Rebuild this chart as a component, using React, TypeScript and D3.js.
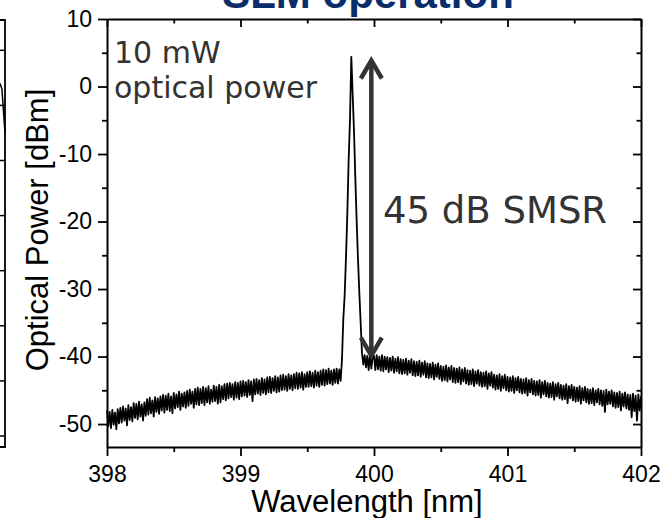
import React, { useRef, useEffect } from "react";
import * as d3 from "d3";

// OSA trace sampling: 398.00 ... 402.00 nm in 0.01 nm steps
const WL_START = 398;
const WL_STEP = 0.01;

// optical power [dBm], one row per 0.1 nm
const POWER = [
  -48.0, -50.3, -48.2, -50.6, -47.9, -50.1, -48.3, -50.8, -47.8, -49.9,
  -47.6, -49.8, -47.4, -49.5, -47.7, -50.2, -47.2, -49.4, -47.5, -49.6,
  -46.9, -49.1, -47.0, -49.3, -46.7, -48.9, -47.1, -49.5, -46.8, -48.8,
  -46.3, -48.6, -46.1, -48.4, -46.5, -48.9, -46.0, -48.2, -46.2, -48.5,
  -45.9, -48.0, -45.7, -48.3, -45.8, -47.9, -45.5, -48.1, -45.9, -48.4,
  -45.4, -47.7, -45.6, -47.5, -45.2, -47.9, -45.5, -47.4, -45.3, -47.6,
  -45.1, -47.3, -44.9, -47.0, -45.2, -47.6, -44.8, -47.1, -44.6, -47.2,
  -44.8, -46.9, -44.5, -47.2, -44.7, -46.8, -44.4, -47.0, -44.9, -46.7,
  -44.3, -46.6, -44.5, -47.0, -44.2, -46.8, -44.4, -46.3, -44.1, -46.5,
  -44.0, -46.2, -43.9, -46.0, -44.1, -46.4, -43.8, -46.1, -43.9, -46.3,
  -43.7, -45.9, -43.6, -45.8, -43.8, -46.0, -43.5, -45.7, -43.7, -46.6,
  -43.4, -45.6, -43.3, -45.5, -43.5, -45.7, -43.2, -45.4, -43.4, -45.6,
  -43.1, -45.3, -43.0, -45.4, -43.2, -45.1, -42.9, -45.3, -43.1, -45.2,
  -42.8, -45.0, -42.7, -44.9, -42.9, -45.1, -42.6, -44.8, -42.8, -45.0,
  -42.6, -44.7, -42.4, -44.8, -42.5, -44.6, -42.3, -44.9, -42.6, -44.5,
  -42.3, -44.5, -42.2, -44.4, -42.4, -44.6, -42.1, -44.3, -42.3, -44.5,
  -42.1, -44.2, -41.9, -44.3, -42.0, -44.1, -41.8, -44.0, -42.1, -44.2,
  -41.9, -43.9, -41.8, -44.0, -41.9, -43.6, -40.5, -34.5, -31.0, -25.5,
  -19.0, -11.0, -5.0, 4.4, -1.0, -6.5, -13.5, -19.8, -25.5, -30.5,
  -35.0, -39.5, -41.2, -39.8, -41.6, -39.9, -42.0, -39.7, -41.8, -40.0,
  -39.9, -42.0, -39.8, -41.9, -40.0, -42.1, -39.8, -42.2, -40.0, -41.9,
  -40.1, -42.3, -40.2, -42.1, -40.0, -42.4, -40.3, -42.2, -40.1, -42.5,
  -40.4, -42.6, -40.5, -42.5, -40.3, -42.7, -40.6, -42.4, -40.4, -42.8,
  -40.7, -42.9, -40.8, -42.8, -40.6, -43.0, -40.9, -42.7, -40.7, -43.1,
  -41.0, -43.2, -41.1, -43.1, -40.9, -43.4, -41.2, -43.0, -41.0, -43.3,
  -41.4, -43.6, -41.5, -43.5, -41.3, -43.7, -41.6, -43.4, -41.4, -43.8,
  -41.7, -43.9, -41.8, -43.8, -41.6, -44.1, -41.9, -43.7, -41.7, -44.0,
  -42.0, -44.2, -42.1, -44.1, -41.9, -44.4, -42.2, -44.0, -42.0, -44.3,
  -42.3, -44.5, -42.4, -44.4, -42.2, -44.8, -42.5, -44.3, -42.3, -44.6,
  -42.7, -44.9, -42.8, -44.8, -42.6, -45.1, -42.9, -44.7, -42.7, -45.0,
  -43.0, -45.2, -43.1, -45.1, -42.9, -45.4, -43.2, -45.0, -43.0, -45.3,
  -43.3, -45.5, -43.4, -45.4, -43.2, -45.8, -43.5, -45.3, -43.3, -45.6,
  -43.6, -45.8, -43.7, -45.7, -43.5, -46.1, -43.8, -45.6, -43.6, -45.9,
  -43.9, -46.1, -44.0, -46.0, -43.8, -46.4, -44.1, -45.9, -43.9, -46.2,
  -44.2, -46.4, -44.3, -46.3, -44.1, -46.9, -44.4, -46.2, -44.2, -46.5,
  -44.5, -46.7, -44.6, -46.6, -44.4, -47.0, -44.7, -46.5, -44.5, -46.8,
  -44.8, -47.0, -44.9, -46.9, -44.7, -47.2, -45.0, -46.8, -44.8, -47.1,
  -45.0, -47.3, -45.1, -48.2, -44.9, -47.1, -45.2, -47.0, -45.0, -47.4,
  -45.3, -47.6, -45.4, -47.5, -45.2, -48.0, -45.5, -47.4, -45.3, -47.7,
  -45.6, -47.9, -45.7, -49.0, -45.5, -48.1, -45.8, -49.5, -45.6, -48.0,
  -45.9,
];

const X_TICKS = [398, 399, 400, 401, 402];
const X_MINOR = [398.5, 399.5, 400.5, 401.5];
const Y_TICKS = [10, 0, -10, -20, -30, -40, -50];
const Y_MINOR = [5, -5, -15, -25, -35, -45];

// SMSR arrow: from peak level down to the side-mode floor
const SMSR_WL = 399.98;
const SMSR_TOP = 4;
const SMSR_BOTTOM = -40;

// fragment of the neighbouring chart cut off at the left edge
const NEIGHBOR_TICKS = [0, 1, 2, 3, 4, 5, 6, 7];
const NEIGHBOR_X = [0.975, 0.985, 1.0];
const NEIGHBOR_Y = [6.4, 6.3, 5.5];

const AXIS_FONT = "Liberation Sans, Arial, sans-serif";
const NOTE_FONT = "DejaVu Sans, Verdana, sans-serif";

export default function App() {
  const ref = useRef<SVGSVGElement>(null);

  useEffect(() => {
    draw();
  }, []);

  const draw = () => {
    const svg = d3.select(ref.current);
    svg.selectAll("*").remove();

    const left = 107, right = 641, top = 19, bottom = 447;
    const x = d3.scaleLinear().domain([398, 402]).range([left, right]);
    const y = d3.scaleLinear().domain([-53.4, 10]).range([bottom, top]);

    const style = (g: any, lw: number) => {
      g.select(".domain").attr("stroke", "#000").attr("stroke-width", lw);
      g.selectAll(".tick line").attr("stroke", "#000").attr("stroke-width", 1.8);
      g.selectAll(".tick text")
        .attr("font-family", AXIS_FONT)
        .attr("font-size", 23)
        .attr("fill", "#000");
    };
    const fmt = (d: any) => String(d);
    const none = () => "";

    // title (cut off at top)
    svg.append("text")
      .attr("x", 368)
      .attr("y", 8)
      .attr("text-anchor", "middle")
      .attr("font-family", AXIS_FONT)
      .attr("font-weight", "bold")
      .attr("font-size", 42)
      .attr("fill", "#0b2c6a")
      .text("SLM operation");

    // neighbouring chart fragment
    const nx = d3.scaleLinear().domain([0, 1]).range([-200, 5]);
    const ny = d3.scaleLinear().domain([-0.2, 7.55]).range([bottom, 20]);
    const ng = svg.append("g");
    ng.append("path")
      .attr("d", `M${nx(0.97)},${ny(7.55)}H${nx(1)}V${ny(-0.2)}H${nx(0.97)}`)
      .attr("fill", "none")
      .attr("stroke", "#000")
      .attr("stroke-width", 1.8);
    ng.selectAll("line")
      .data(NEIGHBOR_TICKS)
      .enter()
      .append("line")
      .attr("x1", nx(1) - 5)
      .attr("x2", nx(1))
      .attr("y1", (d) => ny(d))
      .attr("y2", (d) => ny(d))
      .attr("stroke", "#000")
      .attr("stroke-width", 1.5);
    ng.append("path")
      .attr("d", d3.line<number>().x((d) => nx(d)).y((d, i) => ny(NEIGHBOR_Y[i]))(NEIGHBOR_X))
      .attr("fill", "none")
      .attr("stroke", "#000")
      .attr("stroke-width", 1.5);

    // minor ticks
    style(svg.append("g").attr("transform", `translate(0,${bottom})`)
      .call(d3.axisBottom(x).tickValues(X_MINOR).tickSize(5).tickSizeOuter(0).tickFormat(none)), 0);
    style(svg.append("g").attr("transform", `translate(0,${top})`)
      .call(d3.axisTop(x).tickValues(X_MINOR).tickSize(-4.5).tickSizeOuter(0).tickFormat(none)), 0);
    style(svg.append("g").attr("transform", `translate(${left},0)`)
      .call(d3.axisLeft(y).tickValues(Y_MINOR).tickSize(5).tickSizeOuter(0).tickFormat(none)), 0);
    style(svg.append("g").attr("transform", `translate(${right},0)`)
      .call(d3.axisRight(y).tickValues(Y_MINOR).tickSize(-4.5).tickSizeOuter(0).tickFormat(none)), 0);

    // major axes
    style(svg.append("g").attr("transform", `translate(0,${bottom})`)
      .call(d3.axisBottom(x).tickValues(X_TICKS).tickSize(9).tickSizeOuter(0).tickPadding(10).tickFormat(fmt)), 2);
    style(svg.append("g").attr("transform", `translate(0,${top})`)
      .call(d3.axisTop(x).tickValues(X_TICKS).tickSize(-8).tickSizeOuter(0).tickFormat(none)), 2);
    style(svg.append("g").attr("transform", `translate(${left},0)`)
      .call(d3.axisLeft(y).tickValues(Y_TICKS).tickSize(9).tickSizeOuter(0).tickPadding(6).tickFormat(fmt)), 2);
    style(svg.append("g").attr("transform", `translate(${right},0)`)
      .call(d3.axisRight(y).tickValues(Y_TICKS).tickSize(-8).tickSizeOuter(0).tickFormat(none)), 2);

    // spectrum
    const line = d3.line<number>()
      .x((d, i) => x(WL_START + i * WL_STEP))
      .y((d) => y(d));
    svg.append("path")
      .datum(POWER)
      .attr("d", line)
      .attr("fill", "none")
      .attr("stroke", "#000")
      .attr("stroke-width", 1.8)
      .attr("stroke-linejoin", "round");

    // SMSR double arrow
    const ax = x(SMSR_WL);
    const ay1 = y(SMSR_TOP);
    const ay2 = y(SMSR_BOTTOM);
    const arrow = svg.append("g")
      .attr("fill", "none")
      .attr("stroke", "#333")
      .attr("stroke-width", 4.5);
    arrow.append("line").attr("x1", ax).attr("x2", ax).attr("y1", ay1 + 2).attr("y2", ay2 - 2);
    arrow.append("path").attr("d", `M${ax - 10.5},${ay1 + 19}L${ax},${ay1 + 1}L${ax + 10.5},${ay1 + 19}`);
    arrow.append("path").attr("d", `M${ax - 10.5},${ay2 - 19}L${ax},${ay2 - 1}L${ax + 10.5},${ay2 - 19}`);

    // annotations
    const note = (t: string, tx: number, ty: number, size: number) =>
      svg.append("text")
        .attr("x", tx)
        .attr("y", ty)
        .attr("font-family", NOTE_FONT)
        .attr("font-size", size)
        .attr("fill", "#333")
        .text(t);
    note("10 mW", 114, 63, 30);
    note("optical power", 114, 98, 30);
    note("45 dB SMSR", 383, 223, 37);

    // axis titles
    svg.append("text")
      .attr("x", 367)
      .attr("y", 512)
      .attr("text-anchor", "middle")
      .attr("font-family", AXIS_FONT)
      .attr("font-size", 31)
      .attr("fill", "#000")
      .text("Wavelength [nm]");
    svg.append("text")
      .attr("transform", "translate(48,230) rotate(-90)")
      .attr("text-anchor", "middle")
      .attr("font-family", AXIS_FONT)
      .attr("font-size", 31)
      .attr("fill", "#000")
      .text("Optical Power [dBm]");
  };

  return (
    <svg
      ref={ref}
      width={662}
      height={518}
      style={{ position: "absolute", left: 0, top: 0, background: "#fff" }}
    ></svg>
  );
}
